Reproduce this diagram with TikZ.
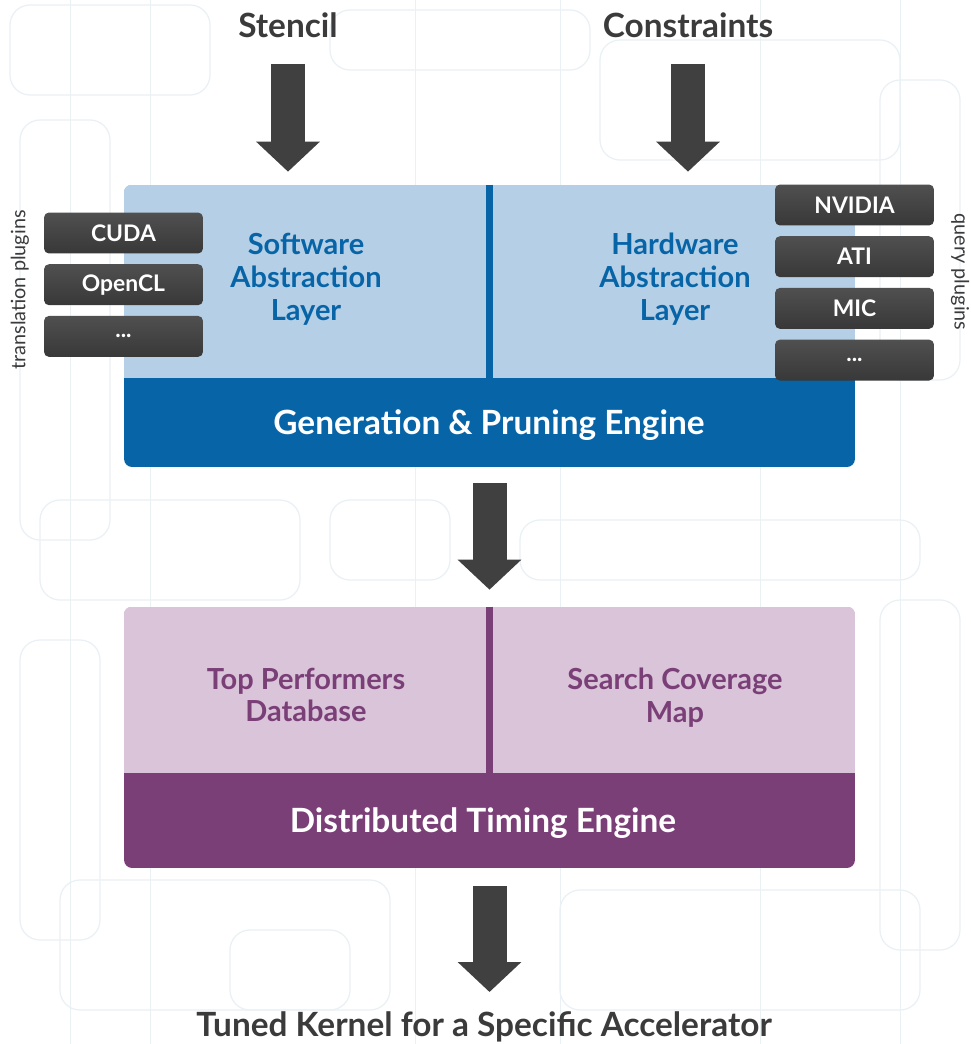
\documentclass[tikz,border=0pt]{standalone}
\usepackage{fontspec}
\setmainfont{Lato}
\usetikzlibrary{positioning, arrows.meta, calc}

\definecolor{paleblue}{HTML}{B5D0E6}
\definecolor{deepblue}{HTML}{0764A7}
\definecolor{palepurple}{HTML}{D9C4D9}
\definecolor{deeppurple}{HTML}{7B3F78}
\definecolor{arrowgray}{HTML}{404040}
\definecolor{plugingray}{HTML}{383838}
\definecolor{titlegray}{HTML}{3B3B3B}
\definecolor{bgline}{HTML}{EAF1F5}

\tikzset{
	bigarrow/.style={draw=arrowgray, line width=0.68cm, -{Triangle[width=1.24cm, length=0.6cm]}},
	panel/.style={rounded corners=0.16cm, minimum width=14.62cm, inner sep=0pt},
	plugin/.style={rounded corners=0.1cm, top color=plugingray!88!white, bottom color=plugingray, minimum width=3.18cm, minimum height=0.82cm, inner sep=0pt, text=white, font=\bfseries\fontsize{13}{15}\selectfont},
	layer/.style={align=center, font=\bfseries\fontsize{16.5}{18.7}\selectfont},
	engine/.style={text=white, font=\bfseries\fontsize{19}{22}\selectfont},
	title/.style={text=titlegray, font=\bfseries\fontsize{19}{22}\selectfont},
	side/.style={text=titlegray, font=\fontsize{11.3}{13}\selectfont},
	circuit/.style={draw=bgline, line width=0.025cm, rounded corners=0.4cm},
}

\begin{document}
\begin{tikzpicture}[x=0.02cm, y=-0.02cm]
	\useasboundingbox (0,0) rectangle (970,1044);
	\fill[white] (0,0) rectangle (970,1044);
	% faint circuit traces in the background
	\foreach \x/\y/\w/\h in {10/5/200/90, 330/10/260/60, 600/40/300/120, 20/120/90/420, 880/80/80/300, 40/500/260/100, 330/500/120/80, 520/520/400/60, 20/640/80/300, 880/600/80/350, 60/880/330/130, 560/890/360/120, 230/930/120/80}
		\draw[circuit] (\x,\y) rectangle ++(\w,\h);
	\foreach \x in {70, 150, 415, 560, 760, 900}
		\draw[bgline, line width=0.02cm] (\x,0) -- (\x,1044);

	\node[title] (stencil) at (288,25) {Stencil};
	\node[title] (constr) at (688,25) {Constraints};

	% generation block
	\node[panel, fill=deepblue, minimum height=5.64cm] (top) at (489.5,326) {};
	\begin{scope}
		\clip[rounded corners=0.16cm] (top.north west) rectangle (top.south east);
		\fill[paleblue] (top.north west) rectangle (top.east |- 0,378);
	\end{scope}
	\draw[deepblue, line width=0.14cm] (top.north) -- (top.north |- 0,378);
	\node[layer, text=deepblue] (sal) at (306,279) {Software\\Abstraction\\Layer};
	\node[layer, text=deepblue] (hal) at (675,279) {Hardware\\Abstraction\\Layer};
	\node[engine] (gpe) at (489,425) {Generation \& Pruning Engine};

	\node[plugin] (cuda) at (123.5,233) {CUDA};
	\node[plugin, below=0.2cm of cuda] (opencl) {OpenCL};
	\node[plugin, below=0.2cm of opencl] (tdots) {...};
	\node[plugin] (nvidia) at (854.5,205) {NVIDIA};
	\node[plugin, below=0.2cm of nvidia] (ati) {ATI};
	\node[plugin, below=0.2cm of ati] (mic) {MIC};
	\node[plugin, below=0.2cm of mic] (qdots) {...};
	\node[side, rotate=90] (tplug) at (20,290) {translation plugins};
	\node[side, rotate=-90] (qplug) at (960,272) {query plugins};

	% timing block
	\node[panel, fill=deeppurple, minimum height=5.22cm] (bot) at (489.5,737.5) {};
	\begin{scope}
		\clip[rounded corners=0.16cm] (bot.north west) rectangle (bot.south east);
		\fill[palepurple] (bot.north west) rectangle (bot.east |- 0,773);
	\end{scope}
	\draw[deeppurple, line width=0.14cm] (bot.north) -- (bot.north |- 0,773);
	\node[layer, text=deeppurple] (tpd) at (306,695) {Top Performers\\Database};
	\node[layer, text=deeppurple] (scm) at (675,698) {Search Coverage\\Map};
	\node[engine] (dte) at (483,823) {Distributed Timing Engine};

	\node[title] (tuned) at (484,1027) {Tuned Kernel for a Specific Accelerator};

	\draw[bigarrow, shorten <=0.78cm, shorten >=0.26cm] (stencil.center) -- (stencil.center |- top.north);
	\draw[bigarrow, shorten <=0.78cm, shorten >=0.26cm] (constr.center) -- (constr.center |- top.north);
	\draw[bigarrow, shorten <=0.32cm, shorten >=0.34cm] (top.south) -- (bot.north);
	\draw[bigarrow, shorten <=0.36cm, shorten >=0.7cm] (bot.south) -- (bot.south |- tuned.center);
\end{tikzpicture}
\end{document}
